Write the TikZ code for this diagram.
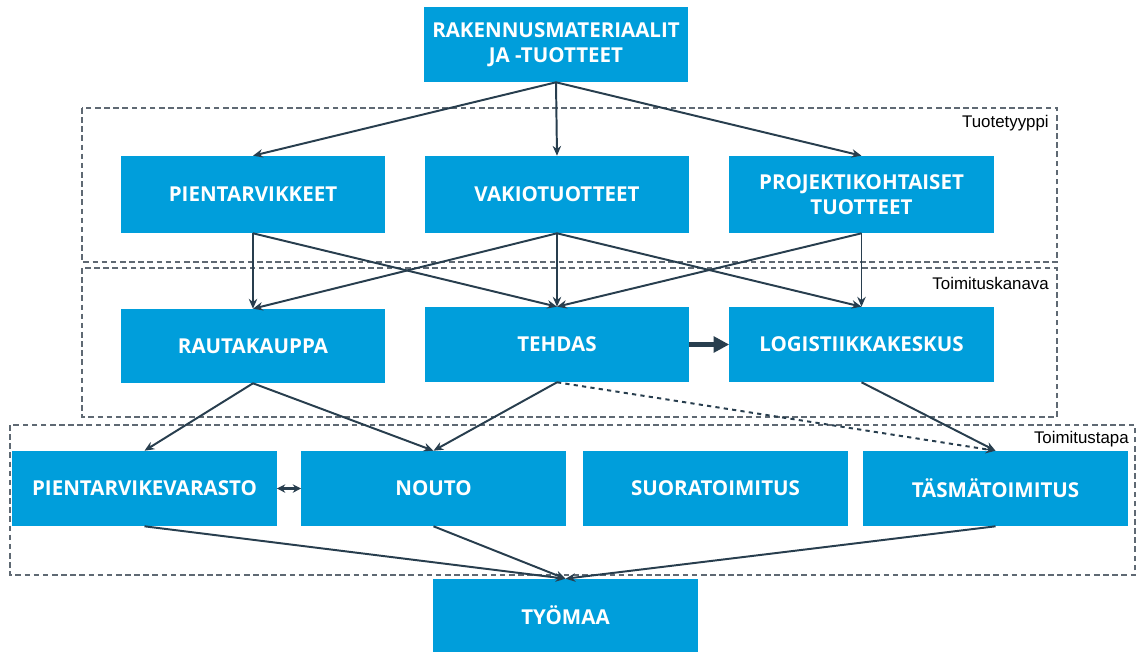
\documentclass[tikz,border=0pt]{standalone}
\usepackage{fontspec}
\setmainfont{Open Sans}
\newfontfamily\framefont{Liberation Sans}
\usepackage{xcolor}
\usetikzlibrary{arrows.meta}
\definecolor{boxblue}{RGB}{0,158,219}
\definecolor{linedark}{RGB}{40,62,78}
\definecolor{framegray}{RGB}{95,105,115}

\begin{document}
\begin{tikzpicture}[x=0.025cm, y=-0.025cm,
    box/.style={fill=boxblue, text=white, font=\fontsize{14.6}{17.5}\selectfont\bfseries,
        minimum width=6.6cm, minimum height=1.875cm, align=center, inner sep=0pt},
    link/.style={-{Stealth[length=7pt,width=6pt]}, line width=1.4pt, draw=linedark},
    frame/.style={draw=framegray, dash pattern=on 4pt off 2.5pt, line width=0.8pt},
    framelabel/.style={anchor=north east, inner sep=0pt, font=\framefont\fontsize{12}{14}\selectfont}]
\useasboundingbox (0,0) rectangle (1138,652);

% Dashed group frames
\draw[frame] (82,108) rectangle (1057,262);
\node[framelabel] (lbltype) at (1049,115) {Tuotetyyppi};
\draw[frame] (82,268) rectangle (1057,417);
\node[framelabel] (lblchannel) at (1049,277) {Toimituskanava};
\draw[frame] (10,425) rectangle (1135,575);
\node[framelabel] (lblmode) at (1129,431) {Toimitustapa};

% Top
\node[box] (materials) at (556,44.5) {RAKENNUSMATERIAALIT\\JA -TUOTTEET};

% Product types
\node[box, minimum height=1.925cm] (small) at (253,194.5) {PIENTARVIKKEET};
\node[box, minimum height=1.925cm] (standard) at (557,194.5) {VAKIOTUOTTEET};
\node[box, minimum height=1.925cm] (project) at (861.5,194.5) {PROJEKTIKOHTAISET\\TUOTTEET};

% Delivery channels
\node[box, minimum height=1.85cm] (hardware) at (253,346) {RAUTAKAUPPA};
\node[box] (factory) at (557,344.5) {TEHDAS};
\node[box] (logistics) at (861.5,344.5) {LOGISTIIKKAKESKUS};

% Delivery modes
\node[box] (store) at (144.5,488.5) {PIENTARVIKEVARASTO};
\node[box] (pickup) at (433.5,488.5) {NOUTO};
\node[box] (direct) at (715.5,488.5) {SUORATOIMITUS};
\node[box] (jit) at (995.5,488.5) {TÄSMÄTOIMITUS};

% Site
\node[box, minimum height=1.825cm] (site) at (565.5,615.5) {TYÖMAA};

% Connectors
\foreach \a/\b in {materials/small, materials/standard, materials/project,
    small/hardware, small/factory,
    standard/hardware, standard/factory, standard/logistics,
    project/factory, project/logistics,
    hardware/store, hardware/pickup, factory/pickup, logistics/jit,
    store/site, pickup/site, jit/site} {
    \draw[link] (\a.south) -- (\b.north);
}
\draw[link, dashed] (factory.south) -- (jit.north);
\draw[-{Triangle[length=11pt,width=11pt]}, line width=3.5pt, draw=linedark]
    (factory.east) -- (logistics.west);
\draw[{Stealth[length=6pt,width=6pt]}-{Stealth[length=6pt,width=6pt]}, line width=1.5pt, draw=linedark]
    (store.east) -- (pickup.west);

\end{tikzpicture}
\end{document}
